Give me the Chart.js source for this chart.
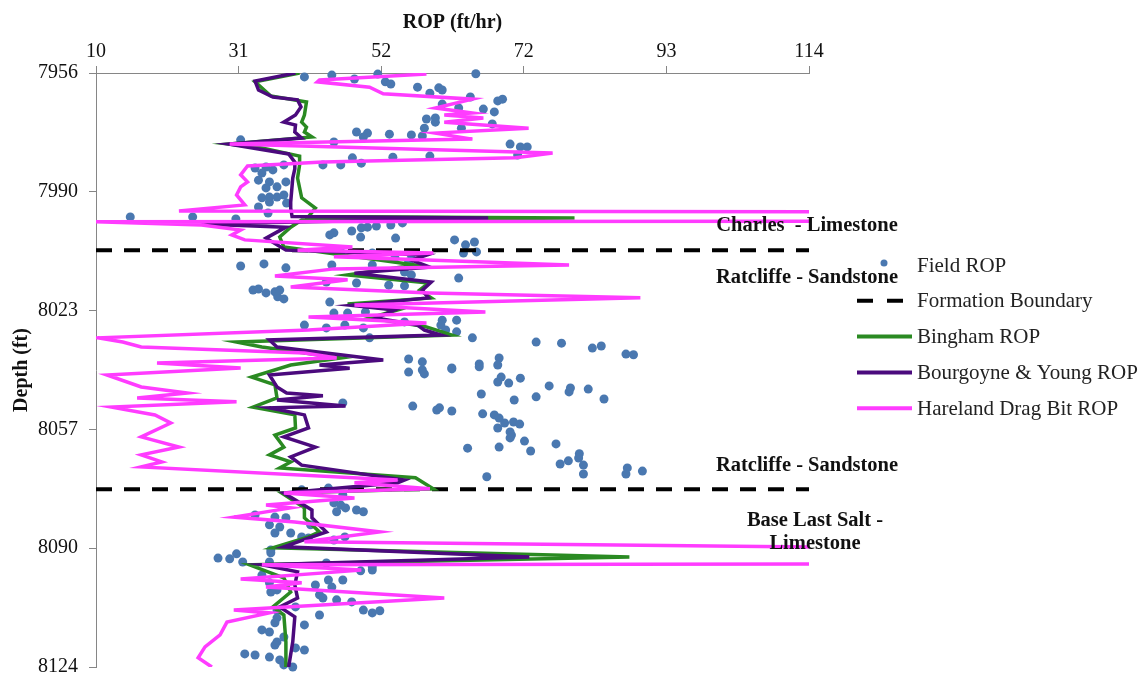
<!DOCTYPE html>
<html>
<head>
<meta charset="utf-8">
<script src="https://cdn.jsdelivr.net/npm/chart.js@4.4.0/dist/chart.umd.min.js"></script>
<style>
  html, body { margin: 0; padding: 0; background: #fff; }
  #wrap { width: 1148px; height: 677px; }
</style>
</head>
<body>
<div id="wrap"><canvas id="chartRop"></canvas></div>
<script>
// ── axis ticks ──
const ropTickLabels   = ['10', '31', '52', '72', '93', '114'];
const depthTickLabels = ['7956', '7990', '8023', '8057', '8090', '8124'];
const ropMin = 10, ropMax = 114;
const depthMin = 7956, depthMax = 8124;

// ── formation boundaries (depth, ft) ──
const boundaryDepths = [8006.1, 8073.7];

// ── field ROP (scatter) ──
const fieldRop = [
  40.4, 44.4, 47.7, 51.1, 65.4, 52.2, 53.0, 56.9, 60.0, 60.5,
  58.7, 64.6, 68.6, 69.3, 60.5, 62.9, 66.5, 68.1, 58.2, 59.5,
  59.5, 63.3, 67.8, 57.9, 48.0, 49.6, 49.0, 52.8, 56.0, 57.6,
  31.1, 44.7, 70.4, 71.9, 72.9, 71.5, 53.3, 58.7, 47.4, 48.7,
  45.7, 43.1, 37.4, 34.8, 33.2, 34.2, 35.8, 35.3, 33.7, 37.7,
  36.4, 34.8, 34.2, 35.3, 36.4, 37.4, 37.8, 35.3, 33.7, 15.0,
  24.1, 30.4, 35.1, 44.7, 47.3, 48.7, 49.6, 50.9, 53.0, 54.7,
  53.7, 48.6, 44.1, 62.3, 63.9, 65.2, 63.6, 65.5, 56.0, 50.3,
  53.6, 55.6, 31.1, 34.5, 37.7, 45.7, 44.4, 50.3, 55.0, 56.0,
  62.9, 48.0, 52.7, 55.0, 43.6, 32.9, 33.7, 34.8, 36.1, 36.5,
  37.4, 36.8, 44.1, 44.7, 46.7, 49.3, 40.4, 43.6, 46.3, 49.0,
  55.0, 60.5, 62.6, 60.3, 61.0, 62.6, 64.9, 49.9, 74.2, 77.9,
  82.4, 83.7, 87.3, 88.4, 55.6, 57.6, 61.9, 65.9, 68.8, 68.6,
  55.6, 57.6, 57.9, 61.9, 65.9, 68.6, 69.1, 70.2, 71.9, 76.1,
  79.0, 79.2, 81.8, 84.1, 74.2, 71.0, 66.2, 46.0, 56.2, 59.7,
  60.1, 61.9, 66.4, 68.1, 68.8, 69.6, 68.6, 70.9, 71.8, 70.4,
  70.6, 70.4, 72.5, 64.2, 68.8, 73.4, 77.1, 80.5, 80.4, 78.9,
  77.7, 81.1, 87.5, 81.1, 87.3, 67.0, 89.7, 40.0, 43.9, 46.0,
  44.7, 45.7, 46.4, 45.1, 48.0, 49.0, 36.1, 33.2, 37.7, 35.3,
  36.8, 41.3, 36.1, 38.4, 40.0, 41.0, 44.7, 46.3, 35.5, 35.5,
  27.8, 29.5, 30.5, 31.4, 35.3, 43.6, 50.3, 48.6, 50.3, 34.2,
  43.9, 46.0, 42.0, 44.4, 35.3, 36.4, 35.5, 42.6, 43.1, 45.1,
  47.3, 39.1, 36.4, 42.6, 49.0, 50.3, 51.4, 36.4, 36.1, 40.4,
  34.2, 35.3, 37.4, 36.4, 36.1, 39.1, 40.4, 31.7, 33.2, 35.3,
  36.8, 37.4, 38.7
];
const fieldDepth = [
  7957.1, 7956.6, 7957.7, 7956.3, 7956.2, 7958.5, 7959.1, 7960.0, 7960.2, 7960.8,
  7961.7, 7962.8, 7963.9, 7963.4, 7964.8, 7965.9, 7966.2, 7967.0, 7969.0, 7968.7,
  7969.9, 7971.6, 7970.4, 7971.6, 7972.7, 7973.0, 7974.1, 7973.3, 7973.5, 7973.8,
  7974.9, 7975.5, 7976.1, 7976.9, 7976.9, 7979.2, 7979.8, 7979.5, 7980.0, 7981.5,
  7982.0, 7982.0, 7982.0, 7982.6, 7982.9, 7984.3, 7983.4, 7986.8, 7986.3, 7986.8,
  7988.2, 7988.5, 7991.3, 7991.1, 7991.1, 7990.5, 7992.8, 7992.5, 7993.9, 7996.7,
  7996.7, 7997.3, 7995.6, 8001.2, 8000.7, 7999.8, 7999.6, 7999.3, 7999.0, 7998.4,
  8002.7, 8002.4, 8001.8, 8003.2, 8004.6, 8003.8, 8006.9, 8006.6, 8007.5, 8006.9,
  8008.3, 8009.4, 8010.6, 8010.0, 8011.1, 8006.6, 8010.3, 8010.3, 8012.3, 8013.1,
  8014.0, 8015.4, 8016.0, 8016.2, 8015.1, 8017.4, 8017.1, 8018.2, 8017.9, 8019.3,
  8019.9, 8017.4, 8020.8, 8023.9, 8023.9, 8023.6, 8027.3, 8028.1, 8027.3, 8028.1,
  8026.4, 8025.9, 8025.9, 8027.3, 8028.7, 8029.2, 8030.9, 8030.9, 8032.1, 8032.4,
  8033.8, 8033.2, 8035.5, 8035.7, 8036.9, 8037.7, 8039.4, 8038.3, 8036.6, 8038.6,
  8040.6, 8040.0, 8041.1, 8039.7, 8039.1, 8043.4, 8042.0, 8043.7, 8042.3, 8044.5,
  8046.2, 8045.1, 8045.4, 8048.2, 8047.6, 8048.5, 8046.8, 8049.3, 8050.2, 8051.3,
  8050.7, 8051.6, 8052.4, 8052.7, 8053.6, 8055.0, 8056.4, 8054.7, 8055.3, 8057.5,
  8058.4, 8059.2, 8060.1, 8062.1, 8061.8, 8062.9, 8060.9, 8063.7, 8064.9, 8065.7,
  8066.6, 8066.9, 8067.7, 8069.4, 8069.4, 8070.2, 8068.6, 8073.9, 8073.4, 8075.3,
  8077.6, 8078.2, 8079.0, 8080.1, 8079.6, 8080.1, 8081.6, 8081.0, 8081.8, 8083.8,
  8084.4, 8083.8, 8086.1, 8086.1, 8087.2, 8087.5, 8088.1, 8087.2, 8090.9, 8091.7,
  8093.2, 8093.4, 8092.0, 8094.3, 8094.3, 8094.6, 8095.7, 8096.8, 8096.6, 8098.0,
  8099.4, 8099.4, 8100.8, 8101.4, 8100.2, 8102.2, 8102.8, 8103.6, 8104.5, 8105.0,
  8105.6, 8107.0, 8107.9, 8109.3, 8107.9, 8108.7, 8108.1, 8110.1, 8111.5, 8112.1,
  8113.5, 8114.1, 8115.5, 8116.9, 8117.8, 8118.6, 8119.2, 8120.3, 8120.6, 8121.2,
  8122.0, 8123.4, 8124.0
];

// ── Bingham model ──
const binghamDepth = [
  7956.0, 7958.5, 7962.5, 7964.2, 7967.9, 7969.9, 7971.3, 7972.7, 7974.1, 7976.1,
  7977.2, 7979.5, 7982.0, 7985.7, 7991.3, 7994.2, 7996.6, 7997.0, 7997.6, 7999.6,
  8002.4, 8005.2, 8010.3, 8013.1, 8015.4, 8017.4, 8019.6, 8021.3, 8023.0, 8025.3,
  8027.8, 8030.1, 8032.1, 8033.5, 8036.6, 8038.6, 8042.0, 8044.2, 8047.9, 8050.5,
  8052.7, 8056.4, 8058.4, 8061.8, 8064.0, 8066.0, 8067.7, 8070.5, 8073.6, 8074.8,
  8079.0, 8081.8, 8085.8, 8087.2, 8090.3, 8092.9, 8095.1, 8098.8, 8102.8, 8107.0,
  8109.3, 8116.9, 8124.0
];
const binghamRop = [
  39.7, 33.2, 35.5, 40.7, 40.4, 40.0, 40.7, 40.4, 41.5, 29.4,
  34.2, 39.7, 39.7, 39.4, 40.0, 42.0, 41.0, 79.8, 40.0, 38.4,
  36.8, 37.4, 56.6, 46.7, 58.5, 57.2, 58.9, 46.7, 54.0, 49.9,
  58.2, 61.9, 30.5, 34.2, 45.7, 38.4, 32.7, 36.1, 36.4, 32.9,
  39.0, 39.1, 36.1, 37.4, 35.3, 38.4, 36.8, 56.6, 59.2, 37.1,
  40.4, 40.4, 42.6, 41.0, 35.8, 87.8, 32.4, 37.4, 38.4, 35.8,
  37.4, 37.7, 37.7
];

// ── Bourgoyne & Young model ──
const bourgoyneDepth = [
  7956.0, 7958.3, 7960.8, 7962.8, 7963.6, 7965.6, 7967.9, 7969.9, 7970.7, 7972.7,
  7974.4, 7976.1, 7977.5, 7978.9, 7981.2, 7983.1, 7985.7, 7992.5, 7994.2, 7996.6,
  7997.0, 7998.7, 7999.6, 8002.7, 8004.6, 8006.1, 8007.5, 8008.9, 8010.9, 8012.6,
  8015.1, 8017.4, 8019.6, 8021.7, 8023.0, 8025.3, 8027.3, 8028.7, 8030.1, 8031.5,
  8033.5, 8037.2, 8038.6, 8039.5, 8041.4, 8044.8, 8046.5, 8047.3, 8048.5, 8050.2,
  8050.7, 8052.7, 8056.4, 8058.9, 8061.8, 8064.6, 8066.9, 8071.1, 8071.9, 8074.8,
  8079.6, 8081.8, 8085.8, 8087.2, 8090.0, 8092.9, 8095.1, 8097.1, 8100.8, 8104.5,
  8107.0, 8109.8, 8116.9, 8124.0
];
const bourgoyneRop = [
  39.1, 33.2, 33.7, 35.8, 39.4, 39.9, 39.1, 37.4, 39.1, 39.0,
  40.0, 29.4, 33.7, 38.1, 39.0, 39.0, 38.7, 38.4, 38.4, 38.6,
  67.2, 25.4, 37.7, 34.8, 36.4, 37.7, 58.2, 56.0, 58.7, 47.7,
  58.9, 57.6, 58.5, 47.3, 53.6, 50.9, 56.9, 57.9, 60.3, 35.3,
  36.4, 51.9, 42.6, 47.0, 35.3, 36.4, 37.8, 43.1, 36.4, 46.4,
  35.3, 40.4, 41.0, 37.4, 42.0, 38.4, 40.0, 55.0, 54.0, 37.4,
  41.5, 41.5, 43.6, 41.5, 37.4, 73.2, 34.2, 39.4, 39.0, 39.4,
  36.8, 39.0, 38.7, 38.1
];

// ── Hareland drag bit model ──
const harelandDepth = [
  7956.3, 7958.0, 7958.5, 7960.0, 7961.9, 7963.4, 7965.9, 7967.3, 7967.9, 7968.7,
  7969.9, 7971.6, 7973.0, 7974.7, 7976.1, 7978.6, 7980.0, 7981.2, 7982.3, 7984.8,
  7986.8, 7988.2, 7990.5, 7993.3, 7995.0, 7995.3, 7997.9, 7998.1, 7999.0, 8000.4,
  8001.8, 8003.2, 8005.2, 8006.1, 8006.9, 8008.0, 8010.3, 8011.4, 8013.4, 8014.5,
  8016.5, 8018.2, 8019.6, 8021.6, 8023.6, 8025.0, 8026.7, 8028.7, 8030.9, 8032.1,
  8033.5, 8035.2, 8036.6, 8038.0, 8039.4, 8041.4, 8044.8, 8046.5, 8047.9, 8049.0,
  8050.5, 8052.7, 8055.0, 8058.9, 8061.8, 8064.0, 8066.0, 8067.4, 8071.1, 8071.9,
  8073.6, 8074.8, 8076.2, 8078.2, 8079.0, 8081.6, 8083.0, 8085.8, 8088.6, 8090.3,
  8094.8, 8095.1, 8096.6, 8099.1, 8100.2, 8101.4, 8104.5, 8107.9, 8108.7, 8111.3,
  8114.9, 8118.3, 8121.4, 8124.0
];
const harelandRop = [
  58.2, 42.6, 42.3, 49.9, 51.9, 64.9, 59.5, 64.9, 60.8, 66.5,
  60.8, 73.1, 59.5, 64.9, 29.5, 76.6, 71.2, 43.1, 32.1, 31.1,
  32.1, 31.1, 30.5, 31.7, 22.1, 125, 125, 10.0, 25.4, 31.1,
  29.8, 31.7, 47.4, 39.4, 59.2, 44.7, 79.0, 44.7, 36.1, 46.7,
  38.4, 58.7, 89.4, 47.7, 66.8, 41.0, 58.2, 41.0, 10.3, 13.9,
  16.6, 40.4, 45.1, 18.9, 31.1, 11.6, 16.6, 23.3, 16.0, 30.5,
  12.3, 18.6, 20.9, 16.6, 22.1, 16.6, 19.6, 16.6, 54.0, 47.7,
  58.7, 37.4, 47.7, 34.8, 38.4, 30.1, 39.0, 51.4, 40.4, 125,
  125, 34.2, 48.7, 31.1, 40.0, 34.8, 60.8, 30.1, 35.3, 29.1,
  28.1, 25.9, 24.9, 26.9
];

// ── formation labels (anchored at depth, ft) ──
const zoneLabels = [
  { lines: ['Charles  - Limestone'], depth: 7999.3 },
  { lines: ['Ratcliffe - Sandstone'], depth: 8014.0 },
  { lines: ['Ratcliffe - Sandstone'], depth: 8067.1 },
  { lines: ['Base Last Salt -', 'Limestone'], depth: 8082.6 },
];

const serif = '"Liberation Serif", "Times New Roman", serif';
const pts = (xs, ys) => xs.map((v, i) => ({ x: v, y: ys[i] }));
const evenTicks = (lo, hi, n) => Array.from({ length: n }, (_, i) => ({ value: lo + i * (hi - lo) / (n - 1) }));

const lineSet = (label, xs, ys, color, order) => ({
  label, data: pts(xs, ys), showLine: true, borderColor: color, backgroundColor: color,
  borderWidth: 3.5, pointRadius: 0, pointHoverRadius: 0, tension: 0, order,
  legendKind: 'line',
});

const datasets = [
  {
    label: 'Field ROP', data: pts(fieldRop, fieldDepth),
    backgroundColor: '#4a78b0', borderColor: '#4a78b0', borderWidth: 0,
    pointRadius: 4.5, pointHoverRadius: 4.5, order: 5, clip: false, legendKind: 'dot',
  },
  ...boundaryDepths.map((d, i) => ({
    label: 'Formation Boundary', data: pts([ropMin, ropMax], [d, d]), showLine: true,
    borderColor: '#000', backgroundColor: '#000', borderWidth: 4, borderDash: [16, 12],
    pointRadius: 0, order: 4, legendKind: i === 0 ? 'dash' : null,
  })),
  lineSet('Bingham ROP', binghamRop, binghamDepth, '#2a8a22', 3),
  lineSet('Bourgoyne & Young ROP', bourgoyneRop, bourgoyneDepth, '#4b0a7d', 2),
  lineSet('Hareland Drag Bit ROP', harelandRop, harelandDepth, '#ff3cff', 1),
];

// formation labels + legend drawn by hand
const decorPlugin = {
  id: 'decor',
  afterDraw(chart) {
    const { ctx, chartArea: a, scales: { y } } = chart;
    ctx.save();

    // zone labels
    ctx.font = 'bold 20.5px ' + serif;
    ctx.fillStyle = '#111';
    ctx.textAlign = 'center';
    ctx.textBaseline = 'middle';
    zoneLabels.forEach(z => {
      const cx = a.right - 2 + (z.lines.length > 1 ? 8 : 0);
      const y0 = y.getPixelForValue(z.depth);
      z.lines.forEach((t, k) => ctx.fillText(t, cx, y0 + k * 23));
    });

    // legend
    const items = chart.data.datasets.filter(d => d.legendKind);
    const mx0 = a.right + 48, mx1 = a.right + 103, tx = a.right + 108;
    ctx.font = '21px ' + serif;
    ctx.textAlign = 'left';
    items.forEach((d, i) => {
      const ly = a.top + 192 + i * 35.8;
      if (d.legendKind === 'dot') {
        ctx.fillStyle = d.backgroundColor;
        ctx.beginPath();
        ctx.arc(mx0 + 27, ly - 2, 3.5, 0, Math.PI * 2);
        ctx.fill();
      } else {
        ctx.strokeStyle = d.borderColor;
        ctx.lineWidth = 4;
        ctx.setLineDash(d.legendKind === 'dash' ? [16, 14] : []);
        ctx.beginPath();
        ctx.moveTo(mx0, ly);
        ctx.lineTo(d.legendKind === 'dash' ? mx0 + 46 : mx1, ly);
        ctx.stroke();
        ctx.setLineDash([]);
      }
      ctx.fillStyle = '#222';
      ctx.fillText(d.label, tx, ly + 1);
    });
    ctx.restore();
  },
};

const tickFont = { family: serif, size: 20 };
const titleFont = { family: serif, size: 20, weight: 'bold' };
const axisGrey = '#868686';

new Chart(document.getElementById('chartRop'), {
  type: 'scatter',
  data: { datasets },
  plugins: [decorPlugin],
  options: {
    responsive: true,
    maintainAspectRatio: false,
    animation: false,
    layout: { padding: { top: 0, left: 0, right: 339, bottom: 10 } },
    plugins: { legend: { display: false }, tooltip: { enabled: false } },
    scales: {
      x: {
        type: 'linear', position: 'top', min: ropMin, max: ropMax,
        afterBuildTicks: s => { s.ticks = evenTicks(ropMin, ropMax, ropTickLabels.length); },
        afterFit: s => { s.height = 73; s.paddingLeft = 0; s.paddingRight = 0; },
        ticks: { callback: (v, i) => ropTickLabels[i], color: '#111', font: tickFont, padding: 2, maxRotation: 0, autoSkip: false },
        grid: { drawOnChartArea: false, drawTicks: true, tickLength: 7, color: axisGrey },
        border: { color: axisGrey, width: 1 },
        title: { display: true, text: 'ROP (ft/hr)', color: '#111', font: titleFont, padding: { top: 11, bottom: 0 } },
      },
      y: {
        type: 'linear', reverse: true, min: depthMin, max: depthMax,
        afterBuildTicks: s => { s.ticks = evenTicks(depthMin, depthMax, depthTickLabels.length); },
        afterFit: s => { s.width = 96; s.paddingTop = 0; s.paddingBottom = 0; },
        ticks: { callback: (v, i) => depthTickLabels[i], color: '#111', font: tickFont, padding: 11, autoSkip: false },
        grid: { drawOnChartArea: false, drawTicks: true, tickLength: 7, color: axisGrey },
        border: { color: axisGrey, width: 1 },
        title: { display: true, text: 'Depth (ft)', color: '#111', font: titleFont, padding: { top: 10, bottom: 0 } },
      },
    },
  },
});
</script>
</body>
</html>
